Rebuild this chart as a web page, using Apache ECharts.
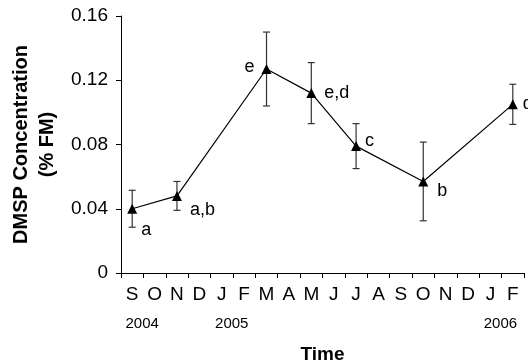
<!DOCTYPE html>
<html>
<head>
    <meta charset="utf-8">
    <title>DMSP</title>
    <script src="https://cdn.jsdelivr.net/npm/echarts@6/dist/echarts.min.js"></script>
</head>
<body style="margin:0">
    <div id="main" style="width:528px;height:362px;"></div>
    <script type="text/javascript">
        var months = ['S','O','N','D','J','F','M','A','M','J','J','A','S','O','N','D','J','F'];
        var years = {0: '2004', 4: '2005', 16: '2006'};
        // sampling months (index into months), mean and error
        var sampleIdx = [0, 2, 6, 8, 10, 13, 17];
        var dmsp = [0.040, 0.048, 0.127, 0.112, 0.079, 0.057, 0.105];
        var err = [0.0115, 0.009, 0.023, 0.019, 0.014, 0.0245, 0.0125];
        var letters = ['a', 'a,b', 'e', 'e,d', 'c', 'b', 'd'];

        // label placement per point (style only)
        var labelCfg = [
            {position: 'right', distance: 4, offset: [0, 21]},
            {position: 'right', distance: 8, offset: [0, 14]},
            {position: 'left', distance: 7, offset: [0, -2]},
            {position: 'right', distance: 8, offset: [0, 0]},
            {position: 'right', distance: 4, offset: [0, -5]},
            {position: 'right', distance: 9, offset: [0, 10]},
            {position: 'right', distance: 5, offset: [0, 0]}
        ];

        var font = 'Liberation Sans, Arial, Helvetica, sans-serif';
        var myChart = echarts.init(document.getElementById('main'));

        var lineData = sampleIdx.map(function (m, i) {
            return {
                value: [m, dmsp[i]],
                label: Object.assign({show: true, formatter: letters[i]}, labelCfg[i])
            };
        });
        var errData = sampleIdx.map(function (m, i) {
            return [m, dmsp[i] - err[i], dmsp[i] + err[i]];
        });

        var option = {
            animation: false,
            grid: {left: 121, right: 4, top: 16, bottom: 89, outerBoundsMode: 'none', containLabel: false},
            xAxis: [{
                type: 'category',
                data: months,
                boundaryGap: true,
                axisLine: {lineStyle: {color: '#000', width: 1}},
                axisTick: {show: true, length: 5, interval: 0, lineStyle: {color: '#000'}},
                axisLabel: {interval: 0, margin: 12, color: '#000', fontSize: 19, fontFamily: font},
                name: 'Time',
                nameLocation: 'middle',
                nameGap: 72,
                nameTextStyle: {color: '#000', fontSize: 19, fontWeight: 'bold', fontFamily: font}
            }, {
                type: 'category',
                data: months,
                position: 'bottom',
                offset: 0,
                axisLine: {show: false},
                axisTick: {show: false},
                axisLabel: {
                    interval: 0,
                    margin: 43,
                    color: '#000',
                    fontSize: 15,
                    fontFamily: font,
                    formatter: function (v, i) {
                        return years[i] ? '{y|' + years[i] + '}' : '';
                    },
                    rich: {y: {fontSize: 15, fontFamily: font, color: '#000', padding: [0, 0, 0, 20]}}
                }
            }],
            yAxis: {
                type: 'value',
                min: 0,
                max: 0.16,
                interval: 0.04,
                splitLine: {show: false},
                axisLine: {show: true, lineStyle: {color: '#000', width: 1}},
                axisTick: {show: true, length: 5, lineStyle: {color: '#000'}},
                axisLabel: {
                    margin: 13,
                    color: '#000',
                    fontSize: 19,
                    fontFamily: font,
                    formatter: function (v) { return v === 0 ? '0' : v.toFixed(2); }
                },
                name: 'DMSP Concentration\n(% FM)',
                nameLocation: 'middle',
                nameRotate: 90,
                nameGap: 60,
                nameTextStyle: {color: '#000', fontSize: 20, fontWeight: 'bold', fontFamily: font, lineHeight: 26}
            },
            series: [{
                type: 'custom',
                xAxisIndex: 0,
                data: errData,
                z: 1,
                renderItem: function (params, api) {
                    var lo = api.coord([api.value(0), api.value(1)]);
                    var hi = api.coord([api.value(0), api.value(2)]);
                    var w = 3.5;
                    var st = {stroke: '#333', lineWidth: 1.2, fill: null};
                    return {
                        type: 'group',
                        children: [
                            {type: 'line', shape: {x1: hi[0], y1: hi[1], x2: lo[0], y2: lo[1]}, style: st},
                            {type: 'line', shape: {x1: hi[0] - w, y1: hi[1], x2: hi[0] + w, y2: hi[1]}, style: st},
                            {type: 'line', shape: {x1: lo[0] - w, y1: lo[1], x2: lo[0] + w, y2: lo[1]}, style: st}
                        ]
                    };
                }
            }, {
                type: 'line',
                xAxisIndex: 0,
                data: lineData,
                z: 2,
                symbol: 'triangle',
                symbolSize: 10,
                itemStyle: {color: '#000'},
                lineStyle: {color: '#000', width: 1.2},
                label: {color: '#000', fontSize: 18, fontFamily: font}
            }]
        };

        myChart.setOption(option);
    </script>
</body>
</html>
